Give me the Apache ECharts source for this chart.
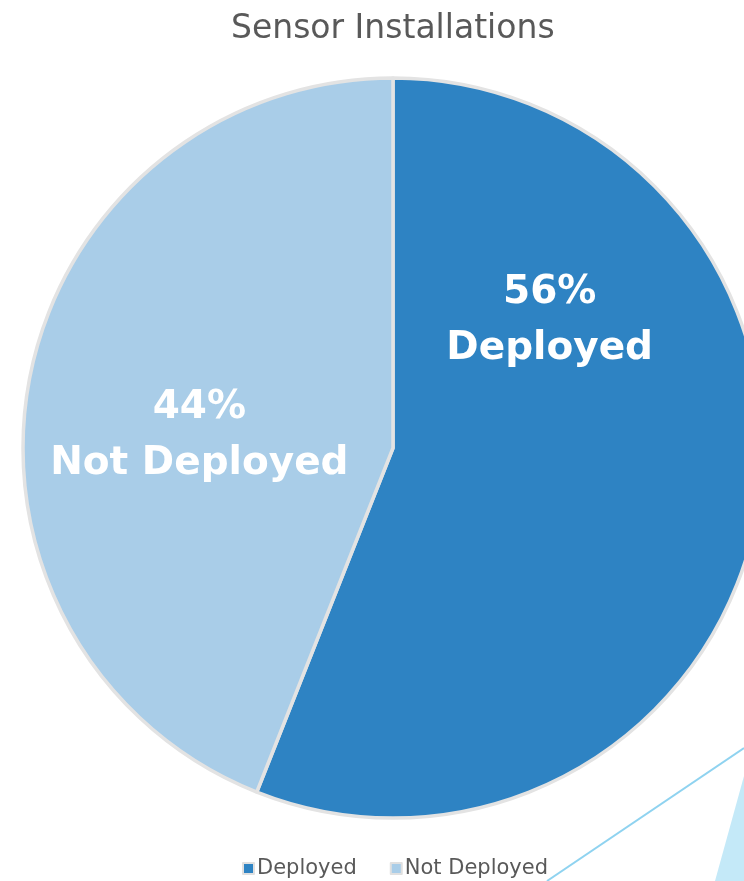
<!DOCTYPE html>
<html>
<head>
<meta charset="utf-8">
<script src="https://cdn.jsdelivr.net/npm/echarts@6/dist/echarts.min.js"></script>
<style>
  html, body { margin: 0; padding: 0; background: #fff; }
  #chart { width: 744px; height: 881px; }
</style>
</head>
<body>
<div id="chart"></div>
<script>
const categories = ['Deployed', 'Not Deployed'];
const shares = [56, 44];
const colors = ['#2E83C3', '#A9CDE8'];

// nudges so the labels sit where the original placed them
const labelShift = [
  { dx: -28, dy: -162 },
  { dx: -9, dy: 23 },
];

const chart = echarts.init(document.getElementById('chart'));

chart.setOption({
  animation: false,
  title: {
    text: 'Sensor Installations',
    left: 226,
    top: 8,
    textStyle: { fontFamily: 'DejaVu Sans', fontSize: 33, fontWeight: 'normal', color: '#595959' },
  },
  legend: {
    data: categories,
    top: 853,
    left: 237,
    icon: 'rect',
    itemWidth: 11,
    itemHeight: 11,
    itemGap: 33,
    itemStyle: { borderColor: '#E0E0E0', borderWidth: 2 },
    textStyle: { fontFamily: 'DejaVu Sans', fontSize: 21, color: '#595959', padding: [0, 0, 0, -2] },
  },
  graphic: [
    {
      type: 'line',
      shape: { x1: 744, y1: 748, x2: 547, y2: 881 },
      style: { stroke: '#8FD3F0', lineWidth: 2 },
    },
    {
      type: 'polygon',
      shape: { points: [[744, 776], [715, 881], [744, 881]] },
      style: { fill: '#C4E9F8' },
    },
  ],
  series: [
    {
      type: 'pie',
      center: [393, 448],
      radius: 370,
      startAngle: 90,
      clockwise: true,
      itemStyle: { borderColor: '#E3E3E3', borderWidth: 3.5 },
      label: {
        show: true,
        position: 'inside',
        formatter: (p) => p.value + '%\n' + p.name,
        fontFamily: 'DejaVu Sans',
        fontSize: 39,
        fontWeight: 'bold',
        lineHeight: 56,
        color: '#ffffff',
      },
      labelLayout: (params) => labelShift[params.dataIndex],
      emphasis: { disabled: true },
      data: categories.map((name, i) => ({
        name,
        value: shares[i],
        itemStyle: { color: colors[i] },
      })),
    },
  ],
});

window.addEventListener('resize', () => chart.resize());
</script>
</body>
</html>
